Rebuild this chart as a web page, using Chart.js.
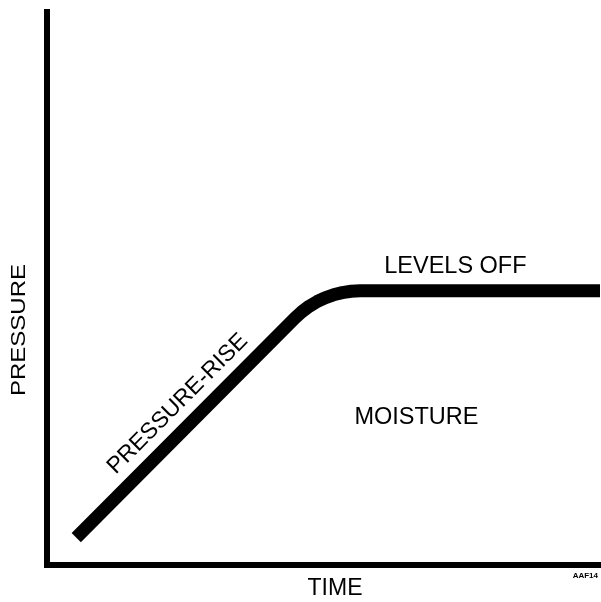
<!DOCTYPE html>
<html>
<head>
<meta charset="utf-8">
<title>Pressure vs Time</title>
<script src="https://cdn.jsdelivr.net/npm/chart.js@4.4.1/dist/chart.umd.min.js"></script>
<style>
  html, body { margin: 0; padding: 0; background: #fff; }
  #wrap { width: 601px; height: 602px; }
</style>
</head>
<body>
<div id="wrap"><canvas id="chart" width="601" height="602"></canvas></div>
<script>
// pressure curve: straight rise, then a rounded knee into the plateau
const timeValues = [5.29, 44.89, 46.09, 47.40, 48.79, 50.27, 51.80, 53.39, 55.00, 56.62, 100];
const pressureValues = [4.96, 44.71, 45.80, 46.78, 47.61, 48.32, 48.86, 49.26, 49.51, 49.58, 49.58];

const axisTitles = ["TIME", "PRESSURE"];
const noteLabels = ["LEVELS OFF", "MOISTURE", "PRESSURE-RISE"];
const figureCode = "AAF14";

const FONT = "'Liberation Sans', Arial, Helvetica, sans-serif";

const curvePoints = timeValues.map((t, i) => ({ x: t, y: pressureValues[i] }));

// axis titles sit off-centre, so they are drawn here rather than by the scales
const titlesPlugin = {
  id: "axisTitles",
  afterDraw(chart) {
    const { ctx, chartArea } = chart;
    ctx.save();
    ctx.fillStyle = "#000";
    ctx.textAlign = "center";
    ctx.textBaseline = "middle";

    ctx.font = "23px " + FONT;
    ctx.fillText(axisTitles[0], chartArea.left + 288, chartArea.bottom + 23.5);

    // y title, letters slightly flattened
    ctx.save();
    ctx.translate(19.5, chartArea.top + 318);
    ctx.rotate(-Math.PI / 2);
    ctx.scale(1, 0.85);
    ctx.font = "24px " + FONT;
    ctx.fillText(axisTitles[1], 0, 0);
    ctx.restore();

    ctx.restore();
  }
};

// region notes placed in data units so they follow the scales
const notesPlugin = {
  id: "notes",
  afterDatasetsDraw(chart) {
    const { ctx, scales: { x, y }, chartArea } = chart;
    ctx.save();
    ctx.fillStyle = "#000";
    ctx.textAlign = "center";
    ctx.textBaseline = "middle";
    ctx.font = "23.5px " + FONT;

    ctx.fillText(noteLabels[0], x.getPixelForValue(73.85), y.getPixelForValue(54.02));
    ctx.fillText(noteLabels[1], x.getPixelForValue(66.81), y.getPixelForValue(26.59));

    // label runs along the rising segment
    ctx.save();
    ctx.translate(x.getPixelForValue(23.61), y.getPixelForValue(29.13));
    ctx.rotate(-Math.PI / 4);
    ctx.font = "23px " + FONT;
    ctx.fillText(noteLabels[2], 0, 0);
    ctx.restore();

    // small figure code under the right end of the time axis
    ctx.font = "bold 8px " + FONT;
    ctx.textAlign = "right";
    ctx.fillText(figureCode, chartArea.right - 2, chartArea.bottom + 11);

    ctx.restore();
  }
};

new Chart(document.getElementById("chart"), {
  type: "line",
  data: {
    datasets: [{
      data: curvePoints,
      borderColor: "#000",
      borderWidth: 13,
      borderJoinStyle: "round",
      borderCapStyle: "butt",
      pointRadius: 0,
      tension: 0,
      fill: false
    }]
  },
  options: {
    responsive: false,
    devicePixelRatio: 1,
    animation: false,
    layout: { padding: { top: 12, right: 1, left: 39, bottom: 29 } },
    plugins: {
      legend: { display: false },
      tooltip: { enabled: false }
    },
    scales: {
      x: {
        type: "linear",
        min: 0,
        max: 100,
        grid: { display: false },
        ticks: { display: false },
        border: { display: true, color: "#000", width: 6 },
        title: { display: false }
      },
      y: {
        type: "linear",
        min: 0,
        max: 100,
        grid: { display: false },
        ticks: { display: false },
        border: { display: true, color: "#000", width: 6 },
        title: { display: false }
      }
    }
  },
  plugins: [notesPlugin, titlesPlugin]
});
</script>
</body>
</html>
